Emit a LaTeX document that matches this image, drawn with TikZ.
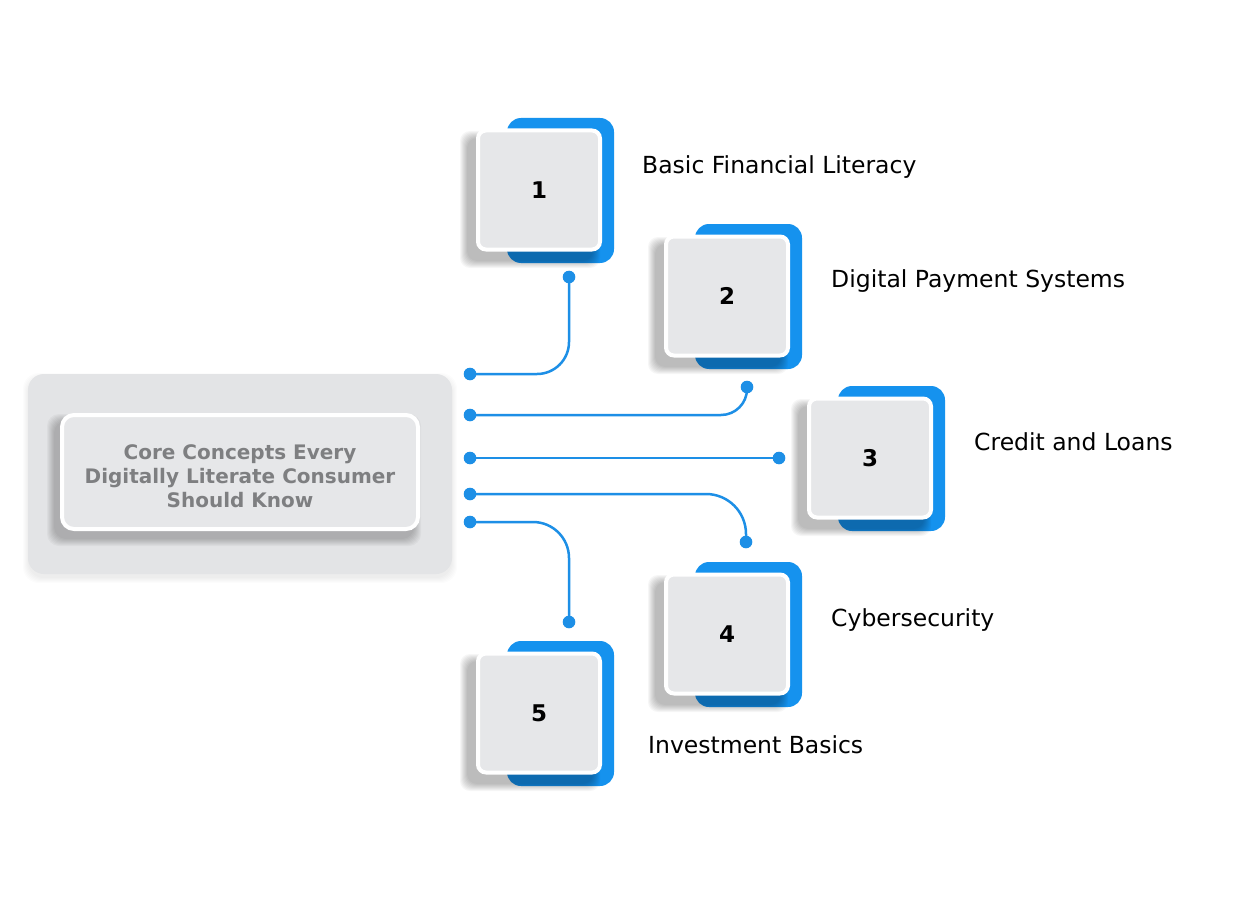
\documentclass[tikz,border=0pt]{standalone}
\usepackage{fontspec}
\setmainfont{DejaVu Sans}
\definecolor{blu}{HTML}{1592EE}
\definecolor{linec}{HTML}{1D8FE6}
\definecolor{boxg}{HTML}{E6E7E9}
\definecolor{outerg}{HTML}{E3E4E6}
\definecolor{txtg}{HTML}{7E7F81}
\tikzset{
  numbox/.style={draw=white, line width=4pt, fill=boxg, rounded corners=8pt,
    minimum width=122pt, minimum height=119pt, inner sep=0pt,
    font=\bfseries\fontsize{23}{26}\selectfont, text=black},
  lbl/.style={anchor=base west, inner sep=0pt, font=\fontsize{23.5}{28}\selectfont, text=black},
  conn/.style={draw=linec, line width=2.5pt},
  dot/.style={fill=linec},
}
\begin{document}
\begin{tikzpicture}[x=1pt,y=-1pt]
\useasboundingbox[fill=white] (0,0) rectangle (1260,904);

% central group
\foreach \k in {0,...,5}
  \fill[black, opacity=0.012, rounded corners=16pt] ({28-\k},{378-\k}) rectangle ({452+\k},{578+\k});
\fill[outerg, rounded corners=16pt] (28,374) rectangle (452,574);
\foreach \k in {0,...,7}
  \fill[black, opacity=0.03, rounded corners=12pt] ({54-\k},{421-\k}) rectangle ({414+\k},{539+\k});
\node[draw=white, line width=4pt, fill=boxg, rounded corners=12pt, minimum width=356pt,
  minimum height=114pt, inner sep=0pt] (core) at (240,472) {};
\node[align=center, text=txtg, font=\bfseries\fontsize{20}{24}\selectfont] (coretext) at (240,476)
  {Core Concepts Every\\Digitally Literate Consumer\\Should Know};

% numbered boxes
\foreach \cx/\cy/\n in {539/190/1, 727/296/2, 870/458/3, 727/634/4, 539/713/5}{
  \fill[blu, rounded corners=14pt] ({\cx-32},{\cy-72}) rectangle ({\cx+75},{\cy+73});
  \foreach \k in {0,...,7}
    \fill[black, opacity=0.035, rounded corners=10pt] ({\cx-72-\k},{\cy-52-\k}) rectangle ({\cx+54+\k},{\cy+71+\k});
  \node[numbox] (b\n) at (\cx,\cy) {\n};
}

% labels
\node[lbl] (l1) at (642,174) {Basic Financial Literacy};
\node[lbl] (l2) at (831,287) {Digital Payment Systems};
\node[lbl] (l3) at (974,450) {Credit and Loans};
\node[lbl] (l4) at (831,626) {Cybersecurity};
\node[lbl] (l5) at (648,753) {Investment Basics};

% connector endpoints
\coordinate (s1) at (470,374);
\coordinate (s2) at (470,415);
\coordinate (s3) at (470,458);
\coordinate (s4) at (470,494);
\coordinate (s5) at (470,522);
\coordinate (e1) at (569,277);
\coordinate (e2) at (747,387);
\coordinate (e3) at (779,458);
\coordinate (e4) at (746,542);
\coordinate (e5) at (569,622);

\draw[conn, rounded corners=32pt] (s1) -| (e1);
\draw[conn, rounded corners=26pt] (s2) -| (e2);
\draw[conn] (s3) -- (e3);
\draw[conn, rounded corners=40pt] (s4) -| (e4);
\draw[conn, rounded corners=36pt] (s5) -| (e5);
\foreach \p in {s1,s2,s3,s4,s5,e1,e2,e3,e4,e5}
  \fill[dot] (\p) circle (6.3pt);
\end{tikzpicture}
\end{document}
